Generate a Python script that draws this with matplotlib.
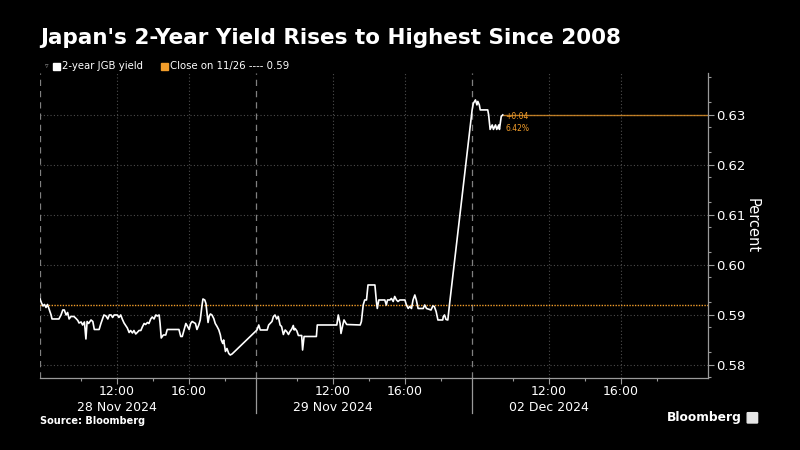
import numpy as np
import matplotlib.pyplot as plt
from matplotlib.patches import Rectangle, FancyBboxPatch

# trading sessions shown back to back (gaps between days removed)
day_labels = ["28 Nov 2024", "29 Nov 2024", "02 Dec 2024"]
session_start = 7.75   # 07:45
session_hours = 12

day1_times = ["07:45", "07:50", "07:55", "08:00", "08:05", "08:10", "08:15", "08:22", "08:25", "08:48",
              "08:55", "09:01", "09:06", "09:12", "09:17", "09:22", "09:28", "09:38", "09:45", "09:51",
              "09:55", "10:02", "10:07", "10:13", "10:18", "10:22", "10:27", "10:35", "10:41", "10:46",
              "11:02", "11:08", "11:14", "11:18", "11:25", "11:31", "11:36", "11:42", "11:47", "11:52",
              "12:03", "12:08", "12:14", "12:19", "12:25", "12:36", "12:42", "12:47", "12:53", "12:58",
              "13:04", "13:09", "13:15", "13:21", "13:26", "13:32", "13:37", "13:43", "13:48", "13:54",
              "13:59", "14:05", "14:11", "14:16", "14:22", "14:25", "14:29", "14:36", "14:44", "14:49",
              "15:22", "15:28", "15:34", "15:39", "15:45", "15:51", "15:56", "16:02", "16:07", "16:12",
              "16:23", "16:28", "16:34", "16:39", "16:45", "16:48", "16:54", "16:58", "17:02", "17:05",
              "17:09", "17:13", "17:18", "17:24", "17:29", "17:35", "17:41", "17:46", "17:49", "17:54",
              "17:57", "18:03", "18:08", "18:14", "18:19", "18:25"]
day1_yield = [0.5932, 0.5924, 0.5918, 0.5921, 0.5915, 0.5921, 0.5912, 0.5900, 0.5892, 0.5892,
              0.5900, 0.5910, 0.5910, 0.5900, 0.5905, 0.5892, 0.5897, 0.5897, 0.5893, 0.5889,
              0.5884, 0.5886, 0.5880, 0.5886, 0.5852, 0.5887, 0.5883, 0.5890, 0.5887, 0.5871,
              0.5871, 0.5883, 0.5893, 0.5900, 0.5898, 0.5892, 0.5900, 0.5900, 0.5895, 0.5900,
              0.5900, 0.5895, 0.5900, 0.5892, 0.5884, 0.5874, 0.5865, 0.5869, 0.5864, 0.5869,
              0.5862, 0.5865, 0.5869, 0.5869, 0.5876, 0.5883, 0.5881, 0.5885, 0.5883, 0.5892,
              0.5896, 0.5892, 0.5900, 0.5898, 0.5900, 0.5884, 0.5854, 0.5860, 0.5860, 0.5871,
              0.5871, 0.5871, 0.5857, 0.5857, 0.5870, 0.5883, 0.5878, 0.5871, 0.5883, 0.5887,
              0.5883, 0.5871, 0.5880, 0.5890, 0.5920, 0.5932, 0.5930, 0.5923, 0.5902, 0.5885,
              0.5898, 0.5902, 0.5900, 0.5893, 0.5883, 0.5877, 0.5870, 0.5860, 0.5850, 0.5843,
              0.5850, 0.5827, 0.5833, 0.5823, 0.5820, 0.5822]

day2_times = ["07:48", "07:54", "07:59", "08:22", "08:27", "08:38", "08:43", "08:48", "08:54", "08:59",
              "09:05", "09:10", "09:16", "09:22", "09:27", "09:33", "09:38", "09:44", "09:49", "09:52",
              "09:55", "10:01", "10:06", "10:17", "10:20", "10:25", "11:06", "11:09", "12:14", "12:19",
              "12:25", "12:28", "12:34", "12:38", "12:47", "13:32", "13:36", "13:42", "13:47", "13:53",
              "13:58", "14:21", "14:26", "14:29", "14:34", "14:54", "14:59", "15:03", "15:11", "15:16",
              "15:22", "15:27", "15:33", "15:38", "15:44", "16:01", "16:06", "16:12", "16:17", "16:23",
              "16:28", "16:34", "16:39", "16:45", "17:02", "17:07", "17:13", "17:28", "17:34", "17:39",
              "17:45", "17:51", "18:07", "18:09", "18:13", "18:18", "18:24", "18:30"]
day2_yield = [0.5870, 0.5880, 0.5870, 0.5870, 0.5880, 0.5887, 0.5897, 0.5900, 0.5892, 0.5897,
              0.5880, 0.5877, 0.5861, 0.5870, 0.5867, 0.5861, 0.5867, 0.5872, 0.5879, 0.5870,
              0.5873, 0.5868, 0.5859, 0.5859, 0.5830, 0.5857, 0.5857, 0.5880, 0.5880, 0.5900,
              0.5883, 0.5863, 0.5880, 0.5890, 0.5881, 0.5880, 0.5887, 0.5920, 0.5930, 0.5930,
              0.5960, 0.5960, 0.5927, 0.5913, 0.5930, 0.5930, 0.5920, 0.5930, 0.5930, 0.5933,
              0.5927, 0.5937, 0.5930, 0.5927, 0.5930, 0.5930, 0.5920, 0.5913, 0.5917, 0.5913,
              0.5930, 0.5940, 0.5930, 0.5913, 0.5913, 0.5920, 0.5913, 0.5910, 0.5918, 0.5917,
              0.5907, 0.5890, 0.5890, 0.5897, 0.5900, 0.5891, 0.5890, 0.5923]

day3_times = ["07:45", "07:49", "07:56", "08:01", "08:04", "08:09", "08:12", "08:37", "08:40", "08:45",
              "08:52", "08:56", "09:03", "09:07", "09:14", "09:16", "09:22", "09:27"]
day3_yield = [0.6310, 0.6323, 0.6330, 0.6320, 0.6327, 0.6320, 0.6310, 0.6310, 0.6300, 0.6271,
              0.6280, 0.6271, 0.6280, 0.6271, 0.6280, 0.6271, 0.6297, 0.6300]

close_1126 = 0.592
y_ticks = [0.58, 0.59, 0.60, 0.61, 0.62, 0.63]
x_tick_clock = [12, 16]

BG = "black"
ORANGE = "#f29d2a"
GRID = "#4d4d4d"


def to_x(day_idx, hhmm):
    h, m = hhmm.split(":")
    return day_idx * session_hours + int(h) + int(m) / 60 - session_start


xs, ys = [], []
for d, (t, v) in enumerate([(day1_times, day1_yield), (day2_times, day2_yield), (day3_times, day3_yield)]):
    xs += [to_x(d, s) for s in t]
    ys += v
xs = np.array(xs)
ys = np.array(ys)
last = ys[-1]
chg = last - close_1126

fig = plt.figure(figsize=(8, 4.5), dpi=100, facecolor=BG)
ax = fig.add_axes([0.05, 0.16, 0.835, 0.678], facecolor=BG)
ax.set_xlim(0, 37.1)
ax.set_ylim(0.5774, 0.6384)

# grid
for v in y_ticks:
    ax.axhline(v, color=GRID, lw=0.8, ls=(0, (1, 2)), zorder=1)
for d in range(3):
    for c in x_tick_clock:
        ax.axvline(d * session_hours + c - session_start, color=GRID, lw=0.8, ls=(0, (1, 2)), zorder=1)
    ax.axvline(d * session_hours, color="#808080", lw=0.9, ls=(0, (5, 4)), zorder=1)

ax.axhline(close_1126, color=ORANGE, lw=1, ls=(0, (1, 1)), zorder=2)
ax.plot([xs[-1], 37.1], [last, last], color=ORANGE, lw=1, alpha=0.75, zorder=2)
ax.plot(xs, ys, color="white", lw=1.2, zorder=3)

ax.text(xs[-1] + 0.15, last - 0.0004, f"+{chg:.2f}", color=ORANGE, fontsize=5.5, va="center")
ax.text(xs[-1] + 0.15, last - 0.0028, f"{chg / close_1126 * 100:.2f}%", color=ORANGE, fontsize=5.5, va="center")

# axes styling
for s in ["top", "left"]:
    ax.spines[s].set_visible(False)
for s in ["right", "bottom"]:
    ax.spines[s].set_color("#9a9a9a")
    ax.spines[s].set_linewidth(0.9)
ax.yaxis.tick_right()
ax.yaxis.set_label_position("right")
ax.set_yticks(y_ticks)
ax.set_yticklabels([f"{v:.2f}" for v in y_ticks])
ax.set_yticks(np.arange(0.5775, 0.6385, 0.005), minor=True)
ax.tick_params(axis="y", which="both", colors="#9a9a9a", labelcolor="white", labelsize=9.5, length=4, width=0.8, pad=2)
ax.tick_params(axis="y", which="minor", length=2.5)
ax.set_ylabel("Percent", color="white", fontsize=10.5, rotation=270, labelpad=10)

major_x = [d * session_hours + c - session_start for d in range(3) for c in x_tick_clock]
ax.set_xticks(major_x)
ax.set_xticklabels([f"{c}:00" for d in range(3) for c in x_tick_clock])
ax.set_xticks([d * session_hours + c - session_start for d in range(3) for c in [10, 14, 18]], minor=True)
ax.tick_params(axis="x", which="both", colors="#9a9a9a", labelcolor="white", labelsize=9, length=4, width=0.8, pad=1)
ax.tick_params(axis="x", which="minor", length=2.5)

for d, lab in enumerate(day_labels):
    ax.text(d * session_hours + 12 - session_start, -0.075, lab, transform=ax.get_xaxis_transform(),
            ha="center", va="top", color="white", fontsize=9)
    if d > 0:
        ax.plot([d * session_hours] * 2, [0, -0.115], transform=ax.get_xaxis_transform(),
                color="#9a9a9a", lw=0.9, clip_on=False)

# titles and legend
fig.text(0.05, 0.915, "Japan's 2-Year Yield Rises to Highest Since 2008", color="white",
         fontsize=15.5, fontweight="bold", va="center")
fig.text(0.056, 0.853, "\u25bf", color="#9a9a9a", fontsize=5, va="center")
fig.patches.append(Rectangle((0.066, 0.845), 0.009, 0.016, transform=fig.transFigure, color="white"))
fig.text(0.077, 0.853, "2-year JGB yield", color="white", fontsize=7.3, va="center")
fig.patches.append(Rectangle((0.201, 0.845), 0.009, 0.016, transform=fig.transFigure, color=ORANGE))
fig.text(0.212, 0.853, f"Close on 11/26 ---- {close_1126:.2f}", color="white", fontsize=7.3, va="center")

fig.text(0.05, 0.065, "Source: Bloomberg", color="white", fontsize=7, fontweight="bold", va="center")
fig.text(0.927, 0.072, "Bloomberg", color="white", fontsize=8.8, fontweight="bold", va="center", ha="right")
fig.patches.append(FancyBboxPatch((0.935, 0.061), 0.011, 0.021, boxstyle="round,pad=0.001",
                                  transform=fig.transFigure, color="#e6e6e6"))

fig.savefig("out.png", dpi=100, facecolor=BG)
